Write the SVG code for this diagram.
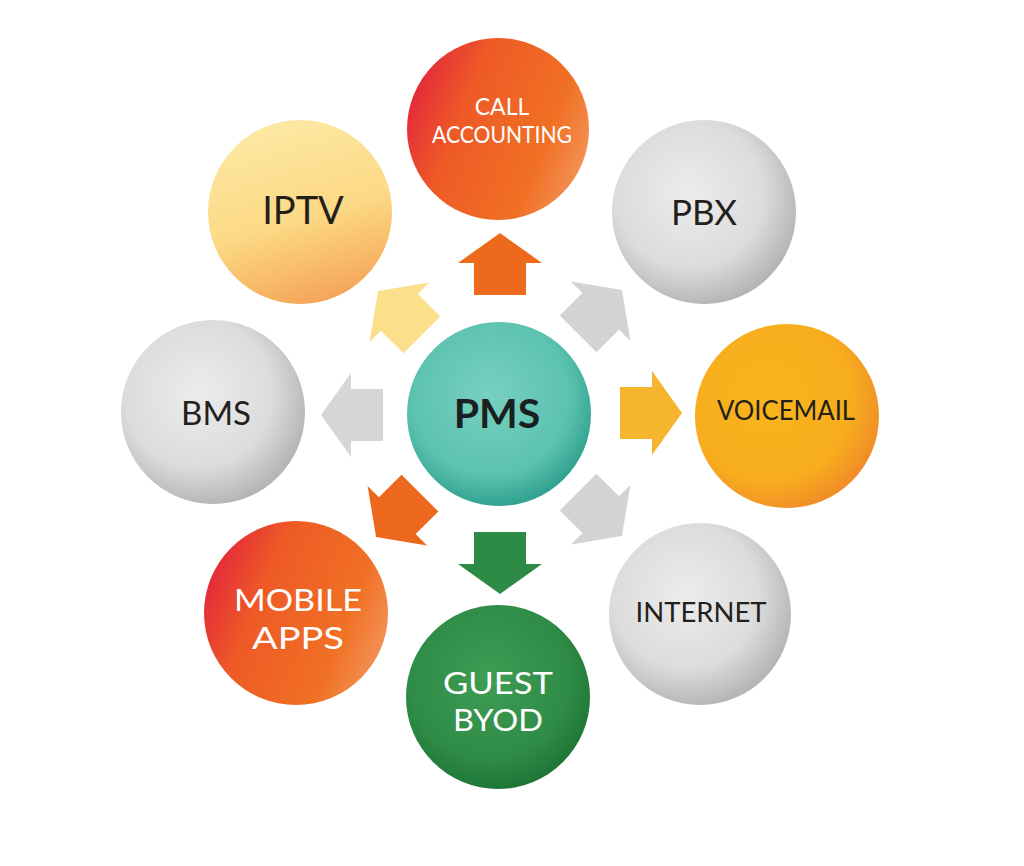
<svg xmlns="http://www.w3.org/2000/svg" width="1024" height="866" viewBox="0 0 1024 866">
  <defs>
    <radialGradient id="gTeal" cx="0.45" cy="0.4" r="0.62">
      <stop offset="0" stop-color="#78d0c0"/>
      <stop offset="0.7" stop-color="#5cc2b0"/>
      <stop offset="1" stop-color="#2c9f8c"/>
    </radialGradient>
    <radialGradient id="gGray" cx="0.42" cy="0.4" r="0.62">
      <stop offset="0" stop-color="#ececec"/>
      <stop offset="0.65" stop-color="#dcdcdc"/>
      <stop offset="1" stop-color="#b4b4b4"/>
    </radialGradient>
    <linearGradient id="gRed" x1="0" y1="0.3" x2="1" y2="0.7">
      <stop offset="0" stop-color="#e3263c"/>
      <stop offset="0.3" stop-color="#ee5a26"/>
      <stop offset="0.75" stop-color="#f07024"/>
      <stop offset="1" stop-color="#f4945a"/>
    </linearGradient>
    <linearGradient id="gYellow" x1="0.3" y1="0" x2="0.6" y2="1">
      <stop offset="0" stop-color="#fde9a4"/>
      <stop offset="0.55" stop-color="#fcd985"/>
      <stop offset="0.8" stop-color="#f8bc6a"/>
      <stop offset="1" stop-color="#f4a45a"/>
    </linearGradient>
    <radialGradient id="gAmber" cx="0.4" cy="0.4" r="0.65">
      <stop offset="0" stop-color="#f9b51c"/>
      <stop offset="0.7" stop-color="#f7ad1e"/>
      <stop offset="1" stop-color="#f08a28"/>
    </radialGradient>
    <radialGradient id="gGreen" cx="0.45" cy="0.4" r="0.62">
      <stop offset="0" stop-color="#3f9c55"/>
      <stop offset="0.7" stop-color="#2f8c46"/>
      <stop offset="1" stop-color="#1c7436"/>
    </radialGradient>
    <path id="arrow" d="M0,-31 L42,-1 L26,-1 L26,31 L-26,31 L-26,-1 L-42,-1 Z"/>
    <style>
      .lbl { font-family: Lato, "Open Sans", "Liberation Sans", sans-serif; text-anchor: middle; }
      .dark { fill: #231f1c; }
      .light { fill: #ffffff; }
    </style>
  </defs>
  <rect width="1024" height="866" fill="#ffffff"/>

  <g id="connectors">
    <use href="#arrow" transform="translate(500,264)" fill="#ed6a1c"/>
    <use href="#arrow" transform="translate(600,312) rotate(45)" fill="#d3d3d3"/>
    <use href="#arrow" transform="translate(651,413) rotate(90)" fill="#f6b52e"/>
    <use href="#arrow" transform="translate(600,514) rotate(135)" fill="#d3d3d3"/>
    <use href="#arrow" transform="translate(500,563) rotate(180)" fill="#2e8b46"/>
    <use href="#arrow" transform="translate(398,515) rotate(-135)" fill="#ec681c"/>
    <use href="#arrow" transform="translate(352,415) rotate(-90)" fill="#d6d6d6"/>
    <use href="#arrow" transform="translate(400,313) rotate(-45)" fill="#fcdf8a"/>
  </g>

  <g id="pms">
    <circle cx="499" cy="414" r="92" fill="url(#gTeal)"/>
    <text class="lbl" x="497" y="428" font-size="41" font-weight="bold" fill="#1a1f1f">PMS</text>
  </g>
  <g id="call-accounting">
    <circle cx="498" cy="129" r="91" fill="url(#gRed)"/>
    <text class="lbl light" x="502" y="115" font-size="23">CALL</text>
    <text class="lbl light" x="502" y="143" font-size="23" textLength="140" lengthAdjust="spacingAndGlyphs">ACCOUNTING</text>
  </g>
  <g id="pbx">
    <circle cx="704" cy="212" r="92" fill="url(#gGray)"/>
    <text class="lbl dark" x="704" y="225" font-size="35">PBX</text>
  </g>
  <g id="voicemail">
    <circle cx="787" cy="416" r="92" fill="url(#gAmber)"/>
    <text class="lbl dark" x="786" y="420" font-size="27" textLength="138" lengthAdjust="spacingAndGlyphs">VOICEMAIL</text>
  </g>
  <g id="internet">
    <circle cx="700" cy="614" r="91" fill="url(#gGray)"/>
    <text class="lbl dark" x="701" y="622" font-size="26" textLength="131" lengthAdjust="spacingAndGlyphs">INTERNET</text>
  </g>
  <g id="guest-byod">
    <circle cx="498" cy="697" r="92" fill="url(#gGreen)"/>
    <text class="lbl light" x="498" y="694" font-size="30" textLength="110" lengthAdjust="spacingAndGlyphs">GUEST</text>
    <text class="lbl light" x="498" y="731" font-size="30" textLength="90" lengthAdjust="spacingAndGlyphs">BYOD</text>
  </g>
  <g id="mobile-apps">
    <circle cx="296" cy="613" r="92" fill="url(#gRed)"/>
    <text class="lbl light" x="298" y="611" font-size="31" textLength="128" lengthAdjust="spacingAndGlyphs">MOBILE</text>
    <text class="lbl light" x="298" y="649" font-size="31" textLength="92" lengthAdjust="spacingAndGlyphs">APPS</text>
  </g>
  <g id="bms">
    <circle cx="213" cy="412" r="92" fill="url(#gGray)"/>
    <text class="lbl dark" x="216" y="425" font-size="33">BMS</text>
  </g>
  <g id="iptv">
    <circle cx="300" cy="212" r="92" fill="url(#gYellow)"/>
    <text class="lbl dark" x="303" y="224" font-size="38">IPTV</text>
  </g>
</svg>
